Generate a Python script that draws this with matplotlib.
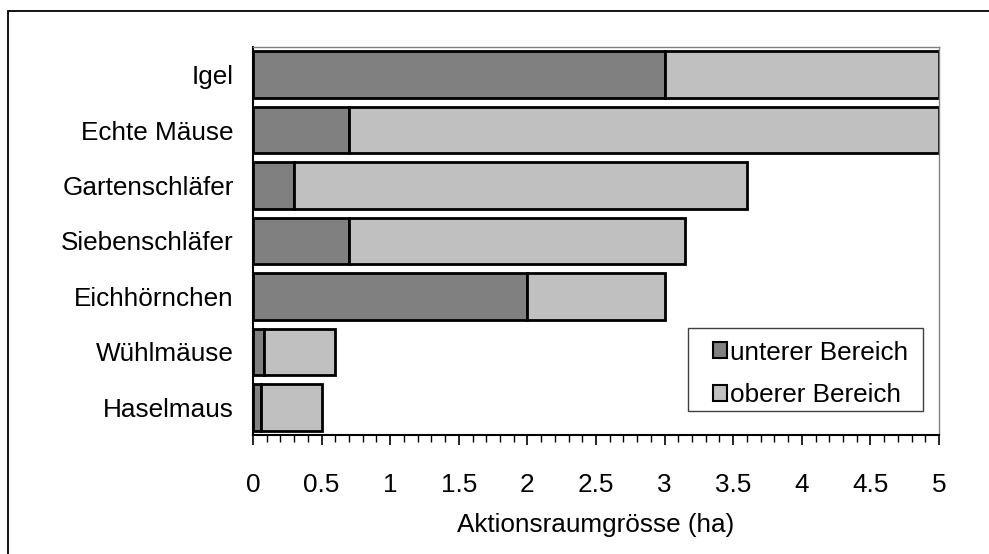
import matplotlib
matplotlib.use("Agg")
import matplotlib.pyplot as plt
from matplotlib.patches import Rectangle
from matplotlib.ticker import MultipleLocator

plt.rcParams['font.family'] = ['Liberation Sans', 'DejaVu Sans']

categories = ["Igel", "Echte Mäuse", "Gartenschläfer", "Siebenschläfer",
              "Eichhörnchen", "Wühlmäuse", "Haselmaus"]
lower = [3.0, 0.7, 0.3, 0.7, 2.0, 0.08, 0.06]
upper_total = [5.0, 5.0, 3.6, 3.15, 3.0, 0.6, 0.5]
upper = [t - l for t, l in zip(upper_total, lower)]
xticks = [0, 0.5, 1, 1.5, 2, 2.5, 3, 3.5, 4, 4.5, 5]
xticklabels = ["0", "0.5", "1", "1.5", "2", "2.5", "3", "3.5", "4", "4.5", "5"]

FS = 18.8

fig = plt.figure(figsize=(9.89, 5.54), dpi=100)
fig.patches.append(Rectangle((8/989, -0.1), 1.2, 1 - 11/554 + 0.1,
                             transform=fig.transFigure, fill=False,
                             edgecolor='black', linewidth=1.3))
ax = fig.add_axes([253/989, 1 - 435/554, (939 - 253)/989, (435 - 47)/554])

y = list(range(len(categories)))
h = 0.84
ax.barh(y, lower, height=h, color='#808080', edgecolor='black',
        linewidth=2.0, label='unterer Bereich')
ax.barh(y, upper, left=lower, height=h, color='#C0C0C0', edgecolor='black',
        linewidth=2.0, label='oberer Bereich')

ax.set_ylim(len(categories) - 0.5, -0.5)
ax.set_xlim(0, 5)
ax.set_yticks(y)
ax.set_yticklabels(categories, fontsize=FS)
ax.tick_params(axis='y', length=0, pad=14)
ax.set_xticks(xticks)
ax.set_xticklabels(xticklabels, fontsize=FS)
ax.xaxis.set_minor_locator(MultipleLocator(0.1))
ax.tick_params(axis='x', which='major', direction='out', length=7, width=1.2, pad=20)
ax.tick_params(axis='x', which='minor', direction='out', length=5, width=1.0)
ax.set_xlabel("Aktionsraumgrösse (ha)", fontsize=FS, labelpad=12)

for s in ['left', 'bottom']:
    ax.spines[s].set_linewidth(1.5)
    ax.spines[s].set_color('black')
for s in ['top', 'right']:
    ax.spines[s].set_linewidth(1.0)
    ax.spines[s].set_color('#808080')

# legend frame
frame = Rectangle((688/989, 1 - 411/554), (923 - 688)/989, (411 - 328)/554,
                  transform=fig.transFigure, facecolor='white',
                  edgecolor='#404040', linewidth=1.0, zorder=4, clip_on=False)
ax.add_patch(frame)
leg = ax.legend(loc='center left', bbox_to_anchor=(713/989, 1 - 374/554),
                bbox_transform=fig.transFigure, frameon=False,
                fontsize=FS, handlelength=0.55,
                handleheight=0.55, handletextpad=0.1, borderpad=0,
                labelspacing=0.72, borderaxespad=0)
leg.set_zorder(6)
for p in leg.get_patches():
    p.set_linewidth(1.5)

fig.savefig("out.png", dpi=100)
